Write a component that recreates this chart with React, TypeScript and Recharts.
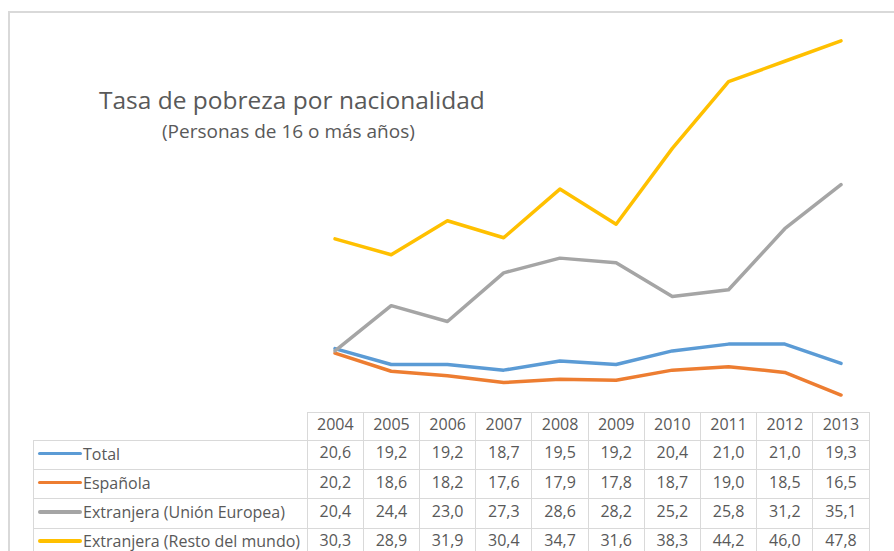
import React from 'react';
import { LineChart, Line, XAxis, YAxis } from 'recharts';

const years = ['2004', '2005', '2006', '2007', '2008', '2009', '2010', '2011', '2012', '2013'];
const total = [20.6, 19.2, 19.2, 18.7, 19.5, 19.2, 20.4, 21.0, 21.0, 19.3];
const espanola = [20.2, 18.6, 18.2, 17.6, 17.9, 17.8, 18.7, 19.0, 18.5, 16.5];
const unionEuropea = [20.4, 24.4, 23.0, 27.3, 28.6, 28.2, 25.2, 25.8, 31.2, 35.1];
const restoMundo = [30.3, 28.9, 31.9, 30.4, 34.7, 31.6, 38.3, 44.2, 46.0, 47.8];

const series = [
  { key: 'total', name: 'Total', color: '#5B9BD5', values: total },
  { key: 'espanola', name: 'Española', color: '#ED7D31', values: espanola },
  { key: 'ue', name: 'Extranjera (Unión Europea)', color: '#A5A5A5', values: unionEuropea },
  { key: 'resto', name: 'Extranjera (Resto del mundo)', color: '#FFC000', values: restoMundo },
];

const data = years.map((y, i) => {
  const row: Record<string, string | number> = { year: y };
  series.forEach(s => { row[s.key] = s.values[i]; });
  return row;
});

const FONT = '"Open Sans", "Noto Sans", sans-serif';
const TEXT = '#595959';
const GRID = '#d9d9d9';
const fmt = (v: number) => v.toFixed(1).replace('.', ',');

const LABEL_W = 273.7;
const COL_W = 56.2;

export default function App() {
  const cell: React.CSSProperties = {
    border: `1px solid ${GRID}`,
    padding: '0 0 5px 0',
    textAlign: 'center',
    fontSize: 16,
    lineHeight: '20px',
    color: TEXT,
  };
  return (
    <div style={{ position: 'absolute', left: 0, top: 0, width: 894, height: 551, overflow: 'hidden', background: '#fff', fontFamily: FONT }}>
      <div style={{ position: 'absolute', left: 8, top: 11, width: 950, height: 650, border: `2px solid ${GRID}` }} />
      <div style={{ position: 'absolute', left: 99, top: 84, fontSize: 24.5, lineHeight: '32px', color: TEXT, whiteSpace: 'nowrap' }}>
        Tasa de pobreza por nacionalidad
      </div>
      <div style={{ position: 'absolute', left: 162, top: 118, fontSize: 19, lineHeight: '26px', color: TEXT, whiteSpace: 'nowrap' }}>
        (Personas de 16 o más años)
      </div>
      <div style={{ position: 'absolute', left: 0, top: 0 }}>
        <LineChart width={894} height={551} data={data} margin={{ top: 16, right: 53, bottom: 139, left: 335 }}>
          <XAxis dataKey="year" hide height={0} />
          <YAxis hide width={0} domain={[15, 50]} />
          {series.map(s => (
            <Line
              key={s.key}
              type="linear"
              dataKey={s.key}
              name={s.name}
              stroke={s.color}
              strokeWidth={3.5}
              strokeLinecap="round"
              strokeLinejoin="round"
              dot={false}
              activeDot={false}
              isAnimationActive={false}
            />
          ))}
        </LineChart>
      </div>
      <table
        style={{
          position: 'absolute',
          left: 33,
          top: 411.5,
          borderCollapse: 'collapse',
          tableLayout: 'fixed',
          width: LABEL_W + COL_W * years.length,
          fontFamily: FONT,
        }}
      >
        <colgroup>
          <col style={{ width: LABEL_W }} />
          {years.map(y => <col key={y} style={{ width: COL_W }} />)}
        </colgroup>
        <tbody>
          <tr style={{ height: 28.3 }}>
            <td style={{ border: 'none', padding: 0 }} />
            {years.map(y => <td key={y} style={cell}>{y}</td>)}
          </tr>
          {series.map(s => (
            <tr key={s.key} style={{ height: 29.3 }}>
              <td style={{ ...cell, textAlign: 'left', whiteSpace: 'nowrap' }}>
                <span style={{ display: 'inline-block', width: 44, height: 3.5, borderRadius: 2, background: s.color, verticalAlign: 'middle', marginLeft: 4, marginRight: 1 }} />
                <span style={{ verticalAlign: 'middle' }}>{s.name}</span>
              </td>
              {s.values.map((v, i) => <td key={i} style={cell}>{fmt(v)}</td>)}
            </tr>
          ))}
        </tbody>
      </table>
    </div>
  );
}
